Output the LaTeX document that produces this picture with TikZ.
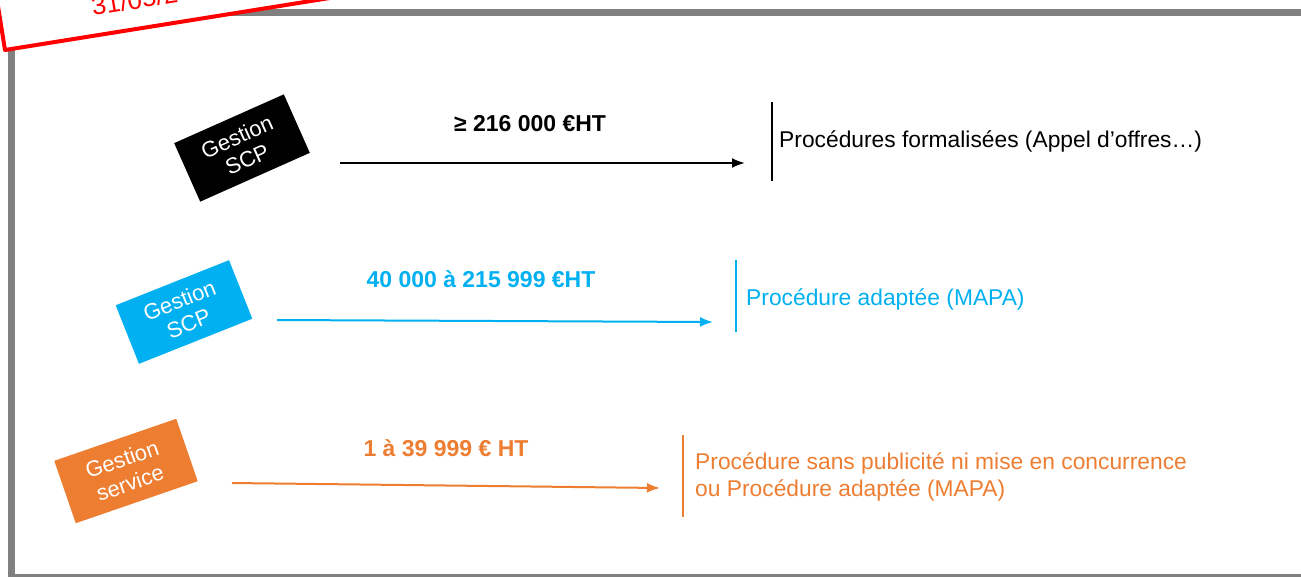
\documentclass[tikz,border=0pt]{standalone}
\usepackage{fontspec}
\setmainfont{Liberation Sans}
\usetikzlibrary{arrows.meta}
\definecolor{frameg}{HTML}{808080}
\definecolor{cblue}{HTML}{00B0F0}
\definecolor{corange}{HTML}{ED7D31}
\definecolor{cred}{HTML}{FF0000}
\tikzset{
  gbox/.style={minimum width=120pt, minimum height=64pt, inner sep=0pt, align=center, text=white,
    font=\fontsize{22}{25}\selectfont},
  arr/.style={line width=2pt, -{Latex[length=13pt,width=10pt]}},
  bar/.style={line width=2.5pt},
  amount/.style={font=\fontsize{23}{27}\selectfont\bfseries, anchor=center},
  result/.style={font=\fontsize{22.8}{27}\selectfont, anchor=west, align=left, inner sep=0pt},
}
\begin{document}
\begin{tikzpicture}[x=1pt,y=-1pt]
\useasboundingbox (0,0) rectangle (1301,576);
\clip (0,0) rectangle (1301,576);
% frame
\draw[frameg, line width=7pt] (11.5,12.3) rectangle (1330,577);
% stamp
\coordinate (s0) at (5,50);
\filldraw[cred, line width=4pt, fill=white, line join=round]
  (s0) -- ++(-9.1:420) -- ++(-99.1:110) -- ++(170.9:420) -- cycle;
\node[text=cred, anchor=base west, rotate=9.1, inner sep=0pt, font=\fontsize{26}{30}\selectfont] (stamp) at (93,16) {31/05/2};

% boxes
\node[gbox, fill=black, rotate=24] (b1) at (242,148) {Gestion\\SCP};
\node[gbox, fill=cblue, rotate=21.7, minimum width=122pt, minimum height=63pt] (b2) at (184,312) {Gestion\\SCP};
\node[gbox, fill=corange, rotate=19, minimum width=129pt, minimum height=66pt] (b3) at (126,471) {Gestion\\service};

% row 1
\coordinate (a1s) at (340,163);
\coordinate (a1e) at (745,163);
\draw[arr, black] (a1s) -- (a1e);
\node[amount, text=black] (l1) at (530,124) {≥ 216 000 €HT};
\coordinate (r1t) at (772,102);
\coordinate (r1b) at (772,181);
\draw[bar, black] (r1t) -- (r1b);
\node[result, text=black] (t1) at (779,141) {Procédures formalisées (Appel d’offres…)};

% row 2
\coordinate (a2s) at (277,320);
\coordinate (a2e) at (713,322);
\draw[arr, cblue] (a2s) -- (a2e);
\node[amount, text=cblue] (l2) at (481,279) {40 000 à 215 999 €HT};
\coordinate (r2t) at (736,260);
\coordinate (r2b) at (736,332);
\draw[bar, cblue] (r2t) -- (r2b);
\node[result, text=cblue] (t2) at (746,299) {Procédure adaptée (MAPA)};

% row 3
\coordinate (a3s) at (232,483);
\coordinate (a3e) at (660,488);
\draw[arr, corange] (a3s) -- (a3e);
\node[amount, text=corange] (l3) at (446,448) {1 à 39 999 € HT};
\coordinate (r3t) at (683,435);
\coordinate (r3b) at (683,517);
\draw[bar, corange] (r3t) -- (r3b);
\node[result, text=corange] (t3) at (695,477) {Procédure sans publicité ni mise en concurrence\\ou Procédure adaptée (MAPA)};
\end{tikzpicture}
\end{document}
